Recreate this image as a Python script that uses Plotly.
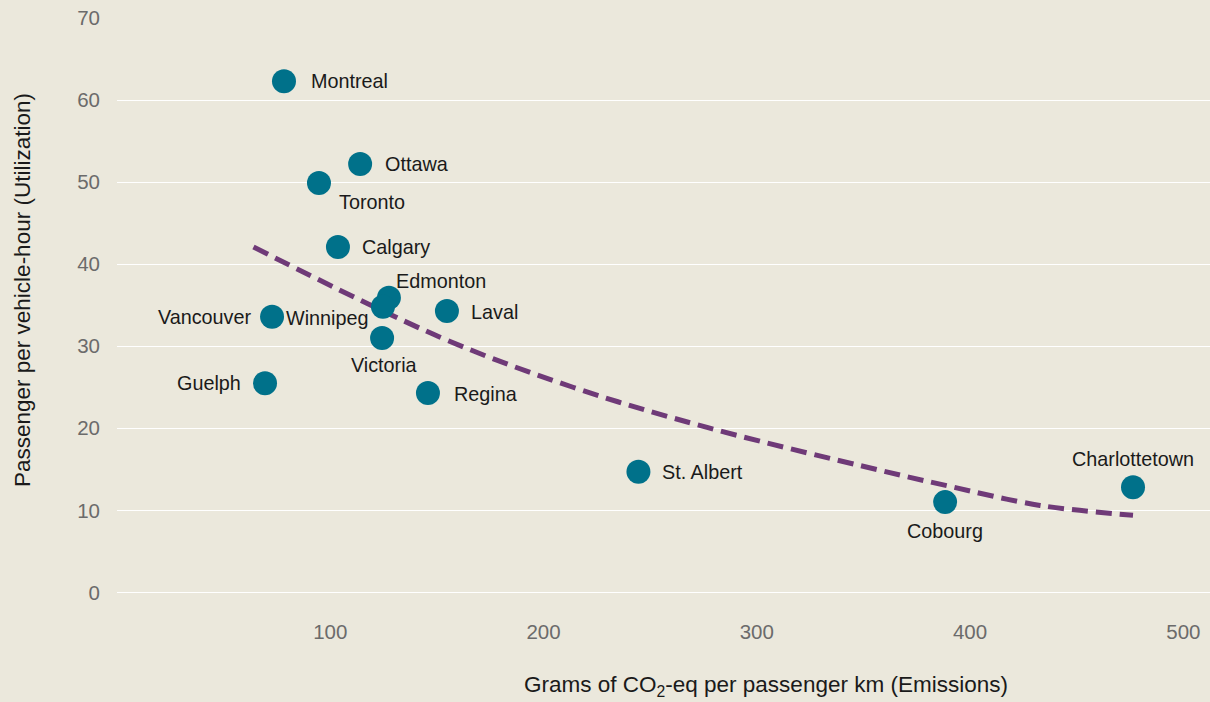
import plotly.graph_objects as go

cities = ["Montreal", "Ottawa", "Toronto", "Calgary", "Edmonton", "Winnipeg", "Laval",
          "Vancouver", "Victoria", "Guelph", "Regina", "St. Albert", "Cobourg", "Charlottetown"]
emissions = [78.3, 114.0, 94.7, 103.6, 127.5, 124.7, 154.7, 72.7, 124.3, 69.4, 145.8, 244.5, 388.3, 476.4]
utilization = [62.3, 52.2, 49.9, 42.1, 35.9, 34.8, 34.3, 33.6, 31.0, 25.5, 24.3, 14.7, 11.0, 12.8]

# trend line
trend_x = [64.0, 151.5, 213.8, 276.7, 367.2, 389.2, 432.8, 476.4]
trend_y = [42.1, 31.1, 25.0, 20.1, 14.3, 13.0, 10.6, 9.4]

x_ticks = [100, 200, 300, 400, 500]
y_ticks = [0, 10, 20, 30, 40, 50, 60, 70]

# label placement (style): xanchor, xshift, yshift in px
label_style = {
    "Montreal": ("left", 25, 0),
    "Ottawa": ("left", 23, 0),
    "Toronto": ("left", 18, -19),
    "Calgary": ("left", 22, 0),
    "Edmonton": ("left", 5, 17),
    "Winnipeg": ("right", -13, -11),
    "Laval": ("left", 22, -1),
    "Vancouver": ("right", -18, 0),
    "Victoria": ("center", 2, -27),
    "Guelph": ("right", -22, 0),
    "Regina": ("left", 24, -1),
    "St. Albert": ("left", 22, 0),
    "Cobourg": ("center", 0, -29),
    "Charlottetown": ("center", 0, 28),
}

FONT = "Liberation Sans, Arial, sans-serif"
BG = "#ebe8dc"
fig = go.Figure()

fig.add_trace(go.Scatter(
    x=trend_x, y=trend_y, mode="lines",
    line=dict(color="#6f3a78", width=5, dash="16px,8px", shape="spline"),
    hoverinfo="skip", showlegend=False,
))

fig.add_trace(go.Scatter(
    x=emissions, y=utilization, mode="markers",
    marker=dict(size=24, color="#00718a", line=dict(width=0)),
    text=cities, hoverinfo="text", showlegend=False,
))

annotations = []
for c, xv, yv in zip(cities, emissions, utilization):
    anc, dx, dy = label_style[c]
    annotations.append(dict(
        x=xv, y=yv, xref="x", yref="y", text=c, showarrow=False,
        xanchor=anc, yanchor="middle", xshift=dx, yshift=dy,
        font=dict(family=FONT, size=19.8, color="#1a1a1a"),
    ))

W, H = 1210, 702
L, R, T, B = 117, 0, 18, 85

def px_to_paper(px, py):
    return (px - L) / (W - L - R), 1 - (py - T) / (H - T - B)

tx, ty = px_to_paper(766, 686)
annotations.append(dict(
    x=tx, y=ty, xref="paper", yref="paper",
    text="Grams of CO<sub>2</sub>-eq per passenger km (Emissions)",
    showarrow=False, xanchor="center", yanchor="middle",
    font=dict(family=FONT, size=22.5, color="#1a1a1a"),
))
tx, ty = px_to_paper(22, 290)
annotations.append(dict(
    x=tx, y=ty, xref="paper", yref="paper", text="Passenger per vehicle-hour (Utilization)",
    showarrow=False, xanchor="center", yanchor="middle", textangle=-90,
    font=dict(family=FONT, size=22.5, color="#1a1a1a"),
))

fig.update_layout(
    width=W, height=H,
    margin=dict(l=L, r=R, t=T, b=B),
    paper_bgcolor=BG, plot_bgcolor=BG,
    font=dict(family=FONT),
    annotations=annotations,
    xaxis=dict(
        range=[0, 512.5], tickvals=x_ticks, showgrid=False, zeroline=False, showline=False,
        tickfont=dict(size=20.5, color="#6b6b6b"), ticks="",
    ),
    yaxis=dict(
        range=[-3, 70], tickvals=y_ticks, showgrid=True, gridcolor="#ffffff", gridwidth=1.3,
        zeroline=False, showline=False, tickfont=dict(size=20.5, color="#6b6b6b"), ticks="",
        ticklabelstandoff=16,
    ),
)

fig.write_html(
    "out.html",
    config={"displayModeBar": False},
    post_script="document.body.style.margin='0';document.body.style.background='%s';" % BG,
)
